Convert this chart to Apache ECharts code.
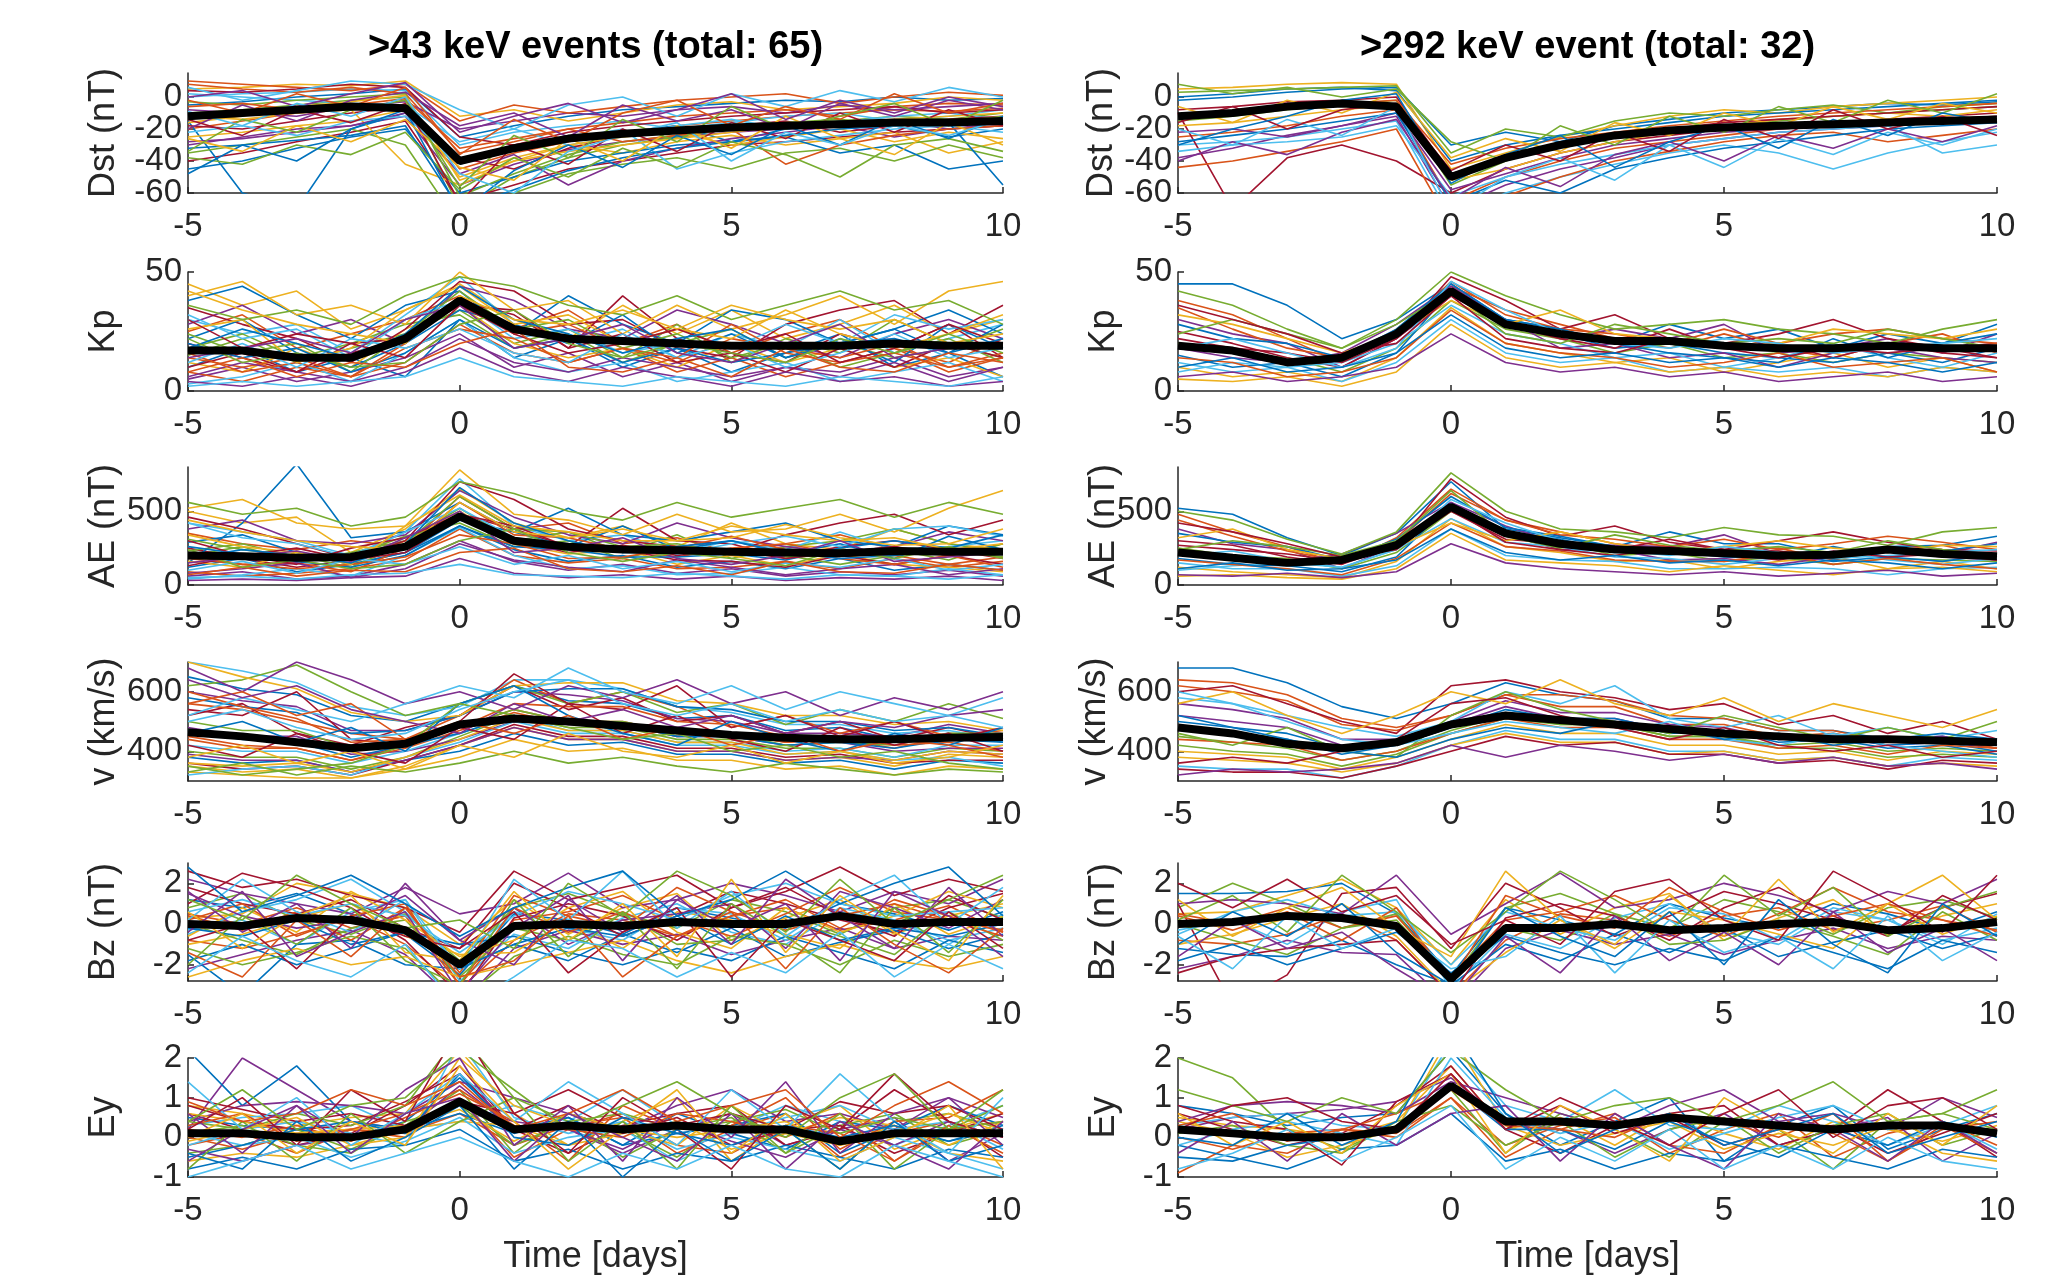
<!DOCTYPE html>
<html>
<head>
<meta charset="utf-8">
<script src="https://cdn.jsdelivr.net/npm/echarts@6/dist/echarts.min.js"></script>
<style>
  html, body { margin: 0; padding: 0; background: #fff; }
  #main { width: 2053px; height: 1276px; }
</style>
</head>
<body>
<div id="main"></div>
<script>
// time axis (days from event)
var days = [-5, -4, -3, -2, -1, 0, 1, 2, 3, 4, 5, 6, 7, 8, 9, 10];
var xTicks = [-5, 0, 5, 10];
var titles = ['>43 keV events (total: 65)', '>292 keV event (total: 32)'];
var matlabColors = ['#0072BD', '#D95319', '#EDB120', '#7E2F8E', '#77AC30', '#4DBEEE', '#A2142F'];

// tick labels per panel
var dstTicks = [-60, -40, -20, 0];
var kpTicks = [0, 50];
var aeTicks = [0, 500];
var vTicks = [400, 600];
var bzTicks = [-2, 0, 2];
var eyTicks = [-1, 0, 1, 2];

// superposed-epoch means (thick black)
var dstMeanA = [-12, -10, -8, -6, -7, -40, -32, -26, -23, -21, -19, -18, -17, -16, -16, -15];
var dstMeanB = [-12, -10, -6, -4, -6, -50, -38, -30, -24, -21, -19, -18, -17, -16, -15, -14];
var kpMeanA = [17, 17, 14, 14, 22, 38, 26, 22, 21, 20, 19, 19, 19, 20, 19, 19];
var kpMeanB = [19, 17, 12, 14, 24, 42, 28, 24, 21, 21, 19, 18, 18, 19, 18, 18];
var aeMeanA = [200, 195, 185, 190, 260, 465, 300, 260, 240, 235, 225, 220, 215, 230, 225, 225];
var aeMeanB = [220, 185, 150, 170, 270, 530, 350, 280, 240, 230, 215, 200, 205, 240, 210, 195];
var vMeanA = [464, 450, 430, 410, 425, 490, 510, 500, 485, 470, 455, 445, 440, 440, 445, 448];
var vMeanB = [480, 460, 425, 410, 430, 490, 520, 505, 490, 475, 460, 450, 440, 440, 435, 430];
var bzMeanA = [0, -0.1, 0.3, 0.2, -0.3, -2.0, -0.1, 0, -0.1, 0.1, 0, 0, 0.4, 0, 0.1, 0.1];
var bzMeanB = [0, 0.1, 0.4, 0.3, -0.1, -2.7, -0.2, -0.2, 0, -0.3, -0.2, 0, 0.1, -0.3, -0.2, 0.1];
var eyMeanA = [0.1, 0.1, 0, 0, 0.2, 0.9, 0.2, 0.3, 0.2, 0.3, 0.2, 0.2, -0.1, 0.1, 0.1, 0.1];
var eyMeanB = [0.2, 0.1, 0, 0, 0.2, 1.3, 0.4, 0.4, 0.3, 0.5, 0.4, 0.3, 0.2, 0.3, 0.3, 0.1];

// individual events, >43 keV (A) and >292 keV (B)
var dstA = [
  [-5, -3, 0, 2, 5, -25, -18, -12, -8, -6, -4, -2, -3, 0, -2, -1],
  [-20, -15, -10, -8, -2, -45, -35, -28, -22, -18, -15, -12, -10, -8, -9, -7],
  [5, 6, 8, 7, 10, -12, -8, -15, -10, -5, -3, -8, -6, -4, 0, -2],
  [-30, -25, -20, -18, -12, -55, -42, -33, -28, -25, -22, -20, -18, -25, -20, -18],
  [-10, -8, -5, -2, 0, -70, -50, -38, -30, -25, -20, -18, -15, -12, -14, -10],
  [0, 2, 3, 5, 4, -30, -22, -18, -15, -20, -16, -12, -10, -15, -12, -8],
  [-40, -35, -28, -22, -15, -65, -55, -45, -40, -35, -30, -28, -25, -22, -20, -18],
  [-15, -60, -70, -20, -10, -40, -30, -25, -22, -18, -28, -20, -15, -18, -25, -20],
  [8, 5, 3, 6, 2, -35, -28, -20, -16, -12, -10, -8, -12, -6, -4, -5],
  [-25, -22, -18, -15, -8, -50, -38, -30, -35, -28, -24, -30, -26, -22, -35, -28],
  [-8, -10, -12, -6, -3, -20, -15, -10, -12, -8, -6, -10, -5, -8, -6, -4],
  [-35, -30, -25, -20, -30, -80, -60, -48, -42, -38, -45, -35, -32, -40, -30, -38],
  [2, 0, -2, -4, -5, -28, -20, -30, -25, -18, -14, -20, -16, -12, -10, -14],
  [-18, -20, -15, -10, -6, -38, -45, -32, -24, -20, -18, -15, -22, -18, -14, -12],
  [-45, -40, -32, -25, -20, -60, -50, -40, -35, -30, -28, -25, -35, -30, -45, -40],
  [10, 8, 6, 4, 8, -15, -5, -10, -6, -2, 0, 2, -4, 0, 3, 1],
  [-12, -14, -10, -8, -42, -55, -40, -30, -25, -22, -30, -25, -20, -28, -22, -26],
  [-28, -26, -22, -18, -10, -48, -36, -55, -40, -32, -26, -22, -18, -15, -20, -16],
  [-3, -5, -2, 0, 2, -62, -48, -36, -28, -24, -20, -16, -14, -18, -16, -12],
  [-22, -18, -24, -15, -12, -42, -32, -26, -20, -45, -35, -28, -24, -20, -18, -22],
  [4, 3, 5, 8, 6, -25, -30, -22, -18, -15, -12, -10, -8, -6, -10, -8],
  [-32, -30, -27, -24, -18, -70, -58, -46, -38, -32, -28, -24, -20, -18, -16, -55],
  [-6, -4, -8, -5, -1, -32, -26, -20, -28, -24, -20, -42, -30, -24, -20, -18],
  [-16, -12, -6, -3, 1, -52, -40, -34, -30, -26, -22, -18, -16, -14, -12, -10],
  [-20, -5, -15, -2, 3, -18, -10, -25, -5, -15, -8, -20, -4, -12, -2, -8],
  [-38, -42, -30, -36, -22, -58, -38, -50, -32, -44, -28, -36, -50, -30, -26, -34],
  [6, -2, 4, 10, 8, -8, -20, -5, 0, -12, 2, -6, 4, -3, 6, 0],
  [-14, -24, -8, -16, -4, -66, -30, -42, -20, -34, -16, -26, -10, -22, -8, -18],
  [-48, -30, -40, -20, -8, -72, -46, -30, -44, -24, -36, -18, -30, -14, -26, -12],
  [-2, -10, 2, -6, 6, -36, -14, -28, -10, -2, -18, -6, -14, 2, -10, -4],
  [-26, -34, -18, -28, -14, -44, -52, -26, -40, -18, -32, -12, -26, -36, -16, -30],
  [0, 4, -6, 2, 9, -22, -12, -4, -16, -8, 2, -14, -2, -10, 0, -6],
  [-34, -14, -22, -8, -2, -56, -24, -38, -14, -28, -6, -20, -12, -4, -18, -2],
  [-9, -18, -4, -12, 0, -48, -60, -34, -24, -16, -40, -22, -30, -18, -24, -14]
];
var dstB = [
  [-2, 0, 3, 5, 6, -30, -22, -28, -18, -14, -10, -8, -6, -4, -5, -3],
  [-25, -22, -18, -12, -8, -65, -50, -40, -32, -28, -24, -20, -18, -16, -14, -12],
  [5, 6, 8, 9, 8, -45, -35, -25, -18, -12, -8, -10, -6, -4, -2, 0],
  [-38, -32, -24, -18, -12, -70, -55, -45, -38, -30, -26, -22, -20, -18, -16, -14],
  [-15, -12, -8, -5, -2, -55, -40, -30, -24, -20, -18, -15, -12, -10, -8, -6],
  [-30, -28, -25, -20, -15, -75, -60, -50, -42, -35, -30, -35, -45, -35, -28, -22],
  [-10, -70, -38, -30, -40, -60, -45, -35, -28, -24, -20, -18, -16, -14, -12, -10],
  [0, 2, 5, 6, 4, -40, -30, -24, -20, -16, -12, -10, -8, -6, -4, -2],
  [-44, -40, -34, -28, -20, -80, -62, -50, -40, -34, -28, -24, -22, -28, -24, -20],
  [-18, -16, -12, -8, -5, -52, -45, -35, -28, -22, -18, -14, -12, -10, -12, -8],
  [-22, -20, -25, -18, -10, -58, -48, -38, -30, -26, -22, -20, -18, -16, -14, -12],
  [3, 4, 5, 6, 7, -35, -20, -25, -15, -10, -12, -8, -5, -10, -6, -4],
  [-34, -30, -28, -25, -18, -62, -50, -42, -36, -30, -26, -22, -20, -18, -35, -30],
  [-8, -6, -3, -2, 0, -48, -38, -30, -25, -20, -16, -14, -12, -10, -8, -6],
  [-28, -24, -20, -15, -10, -66, -52, -60, -45, -38, -32, -28, -24, -20, -18, -16],
  [-12, -10, -6, -4, -2, -42, -32, -26, -22, -18, -15, -12, -10, -8, -6, -4],
  [-6, -16, -2, -10, 3, -38, -26, -34, -16, -24, -10, -18, -6, -14, -4, -10],
  [-40, -28, -36, -22, -14, -64, -44, -56, -36, -28, -40, -24, -32, -20, -28, -18],
  [8, 2, 6, 0, 5, -28, -40, -18, -30, -12, -22, -6, -16, -2, -10, 2],
  [-20, -30, -14, -24, -6, -72, -50, -38, -52, -30, -44, -26, -36, -22, -30, -20],
  [-16, -6, -20, -8, -4, -46, -30, -40, -22, -34, -14, -26, -8, -20, -12, -24],
  [-30, -20, -12, -2, 2, -54, -36, -24, -44, -28, -18, -32, -14, -24, -10, -16]
];
var kpA = [
  [10, 18, 8, 14, 6, 30, 14, 22, 10, 18, 8, 16, 24, 10, 16, 6],
  [25, 32, 18, 24, 30, 40, 26, 34, 20, 28, 16, 24, 30, 18, 12, 22],
  [45, 36, 42, 26, 34, 45, 30, 22, 36, 24, 34, 22, 28, 36, 24, 30],
  [5, 10, 4, 8, 14, 24, 10, 16, 6, 12, 4, 10, 8, 14, 6, 10],
  [15, 22, 12, 18, 24, 34, 20, 26, 14, 28, 12, 22, 16, 30, 20, 14],
  [30, 24, 28, 16, 32, 48, 28, 20, 26, 14, 24, 18, 30, 16, 22, 28],
  [20, 14, 8, 16, 22, 38, 32, 18, 40, 22, 16, 12, 24, 18, 28, 14],
  [38, 44, 32, 22, 36, 42, 24, 40, 28, 20, 34, 30, 20, 26, 34, 24],
  [8, 4, 10, 6, 12, 28, 16, 12, 18, 8, 14, 6, 12, 18, 8, 14],
  [12, 8, 18, 10, 26, 36, 20, 14, 18, 10, 20, 12, 18, 10, 14, 6],
  [28, 36, 24, 30, 20, 44, 38, 26, 22, 34, 28, 20, 14, 24, 30, 22],
  [18, 24, 14, 20, 28, 32, 18, 24, 12, 20, 26, 14, 20, 14, 18, 26],
  [3, 6, 12, 4, 16, 30, 14, 8, 12, 4, 8, 12, 4, 8, 12, 4],
  [35, 28, 22, 12, 26, 46, 42, 28, 30, 18, 14, 28, 34, 38, 24, 36],
  [22, 30, 16, 10, 20, 34, 28, 20, 32, 16, 24, 14, 22, 12, 28, 18],
  [14, 10, 14, 6, 20, 40, 24, 28, 18, 12, 22, 18, 14, 20, 10, 16],
  [40, 46, 32, 36, 28, 50, 34, 38, 24, 36, 26, 32, 40, 28, 42, 46],
  [6, 12, 8, 4, 10, 22, 12, 8, 14, 10, 6, 10, 6, 12, 4, 10],
  [24, 16, 20, 8, 24, 42, 26, 30, 18, 24, 14, 20, 10, 16, 22, 12],
  [32, 22, 26, 14, 30, 38, 22, 26, 16, 20, 18, 28, 20, 32, 26, 30],
  [10, 16, 8, 20, 22, 36, 34, 18, 24, 12, 16, 8, 18, 10, 20, 14],
  [20, 14, 18, 8, 16, 30, 18, 22, 12, 18, 12, 16, 20, 26, 16, 28],
  [16, 8, 12, 6, 18, 26, 22, 12, 18, 14, 28, 16, 12, 16, 10, 14],
  [26, 30, 12, 18, 34, 44, 28, 32, 20, 26, 22, 34, 24, 18, 24, 32],
  [4, 2, 6, 2, 8, 18, 8, 4, 10, 6, 2, 8, 4, 6, 2, 4],
  [36, 30, 34, 28, 40, 48, 44, 36, 32, 40, 30, 36, 42, 34, 38, 28],
  [12, 20, 10, 22, 18, 26, 16, 12, 24, 14, 20, 10, 16, 24, 14, 18],
  [30, 18, 24, 20, 14, 36, 24, 16, 20, 26, 18, 24, 12, 18, 28, 20],
  [18, 26, 20, 14, 24, 44, 30, 24, 16, 22, 26, 14, 20, 22, 16, 22],
  [8, 14, 6, 12, 10, 20, 26, 10, 8, 14, 6, 18, 10, 8, 16, 12],
  [42, 34, 28, 24, 20, 40, 30, 28, 34, 26, 36, 30, 26, 30, 20, 24],
  [14, 18, 22, 16, 30, 36, 18, 22, 28, 16, 12, 20, 28, 14, 18, 20],
  [22, 12, 16, 10, 12, 28, 34, 20, 14, 20, 16, 12, 22, 16, 24, 16],
  [2, 4, 2, 4, 6, 14, 6, 4, 2, 6, 4, 2, 6, 4, 2, 6]
];
var kpB = [
  [45, 45, 36, 22, 30, 45, 30, 26, 20, 28, 22, 26, 18, 24, 20, 28],
  [38, 32, 22, 12, 26, 44, 34, 28, 22, 18, 24, 18, 14, 20, 24, 16],
  [10, 6, 8, 4, 14, 35, 20, 16, 12, 14, 8, 12, 16, 10, 14, 8],
  [30, 24, 20, 10, 22, 40, 30, 22, 26, 22, 28, 16, 18, 22, 16, 24],
  [20, 16, 14, 8, 18, 38, 26, 22, 16, 20, 14, 16, 12, 16, 14, 12],
  [12, 8, 10, 4, 12, 30, 16, 12, 14, 8, 10, 8, 10, 6, 10, 8],
  [25, 20, 14, 10, 22, 48, 38, 26, 32, 22, 20, 24, 30, 22, 18, 20],
  [15, 10, 12, 6, 16, 42, 28, 24, 18, 20, 16, 14, 12, 16, 12, 18],
  [35, 26, 18, 14, 24, 46, 32, 26, 24, 20, 26, 20, 24, 26, 22, 20],
  [5, 4, 6, 2, 8, 28, 14, 10, 12, 8, 10, 6, 8, 6, 10, 8],
  [18, 14, 12, 16, 28, 44, 30, 18, 20, 14, 16, 10, 16, 18, 14, 12],
  [42, 36, 26, 18, 30, 50, 40, 32, 26, 28, 30, 26, 24, 20, 26, 30],
  [8, 12, 10, 12, 20, 36, 24, 20, 14, 16, 10, 14, 20, 14, 10, 16],
  [22, 18, 16, 12, 22, 40, 28, 22, 18, 26, 18, 20, 14, 20, 16, 14],
  [28, 22, 20, 14, 26, 45, 30, 26, 20, 16, 14, 12, 22, 14, 20, 24],
  [14, 12, 6, 8, 14, 34, 20, 16, 14, 10, 12, 16, 10, 12, 14, 8],
  [32, 28, 22, 16, 24, 38, 28, 34, 24, 22, 18, 20, 26, 24, 22, 26],
  [6, 8, 4, 6, 10, 24, 12, 8, 10, 6, 8, 4, 6, 8, 4, 6],
  [24, 30, 24, 18, 28, 42, 24, 20, 28, 24, 20, 22, 20, 26, 22, 18],
  [18, 22, 16, 10, 18, 46, 34, 24, 20, 18, 22, 20, 16, 18, 20, 22],
  [36, 30, 24, 16, 20, 40, 22, 18, 16, 22, 18, 14, 18, 16, 18, 14],
  [10, 14, 8, 10, 16, 32, 18, 14, 16, 12, 14, 10, 14, 12, 8, 12]
];
var aeA = [
  [120, 180, 90, 140, 220, 400, 240, 160, 200, 120, 160, 110, 180, 100, 140, 100],
  [350, 280, 240, 300, 260, 600, 380, 420, 280, 320, 220, 280, 340, 240, 200, 280],
  [500, 420, 460, 220, 380, 650, 420, 320, 400, 260, 420, 280, 240, 380, 280, 240],
  [60, 90, 40, 60, 140, 300, 160, 100, 140, 80, 110, 60, 90, 70, 100, 60],
  [200, 260, 160, 220, 300, 520, 300, 360, 220, 340, 180, 260, 300, 380, 280, 220],
  [420, 360, 300, 200, 360, 720, 400, 300, 340, 220, 300, 240, 360, 240, 260, 300],
  [250, 180, 120, 170, 260, 480, 380, 260, 520, 300, 280, 180, 260, 300, 240, 180],
  [150, 420, 820, 320, 360, 560, 360, 520, 340, 300, 360, 420, 300, 260, 400, 340],
  [90, 60, 80, 110, 170, 380, 200, 150, 180, 110, 120, 160, 110, 180, 120, 160],
  [160, 120, 220, 140, 300, 500, 280, 210, 240, 140, 200, 130, 210, 140, 120, 90],
  [380, 440, 300, 280, 340, 640, 460, 340, 280, 420, 320, 260, 220, 260, 360, 300],
  [230, 280, 190, 200, 330, 420, 260, 300, 180, 260, 240, 190, 200, 240, 170, 280],
  [40, 70, 110, 60, 200, 390, 200, 110, 130, 70, 80, 120, 70, 60, 110, 70],
  [460, 380, 280, 180, 300, 700, 580, 380, 300, 260, 220, 340, 420, 480, 340, 440],
  [290, 340, 220, 140, 220, 440, 360, 260, 400, 240, 300, 210, 280, 180, 330, 240],
  [180, 140, 150, 90, 250, 560, 340, 320, 240, 190, 250, 280, 210, 200, 140, 190],
  [520, 580, 420, 380, 400, 780, 480, 440, 340, 480, 360, 380, 480, 360, 520, 640],
  [80, 110, 150, 50, 110, 280, 170, 120, 90, 170, 120, 70, 110, 140, 70, 110],
  [310, 240, 200, 120, 280, 600, 380, 360, 260, 280, 210, 200, 140, 200, 240, 190],
  [420, 320, 280, 190, 360, 520, 320, 280, 220, 210, 280, 330, 260, 380, 400, 330],
  [130, 200, 140, 250, 320, 480, 400, 260, 240, 170, 160, 120, 200, 140, 200, 140],
  [260, 210, 160, 120, 200, 400, 260, 240, 190, 190, 210, 170, 250, 300, 250, 340],
  [200, 140, 110, 140, 190, 340, 280, 180, 190, 250, 330, 240, 180, 140, 200, 120],
  [340, 260, 220, 140, 400, 610, 400, 360, 300, 300, 320, 410, 320, 270, 280, 380],
  [30, 40, 30, 50, 60, 180, 80, 50, 70, 40, 60, 30, 50, 40, 60, 30],
  [560, 480, 520, 400, 460, 700, 620, 500, 440, 560, 460, 520, 580, 460, 560, 480],
  [100, 160, 80, 180, 140, 260, 140, 200, 110, 160, 90, 150, 120, 180, 100, 140],
  [300, 200, 250, 170, 220, 460, 300, 220, 270, 200, 240, 180, 220, 260, 200, 240],
  [180, 240, 200, 150, 280, 660, 420, 300, 220, 260, 300, 220, 180, 200, 240, 210],
  [70, 120, 60, 100, 90, 220, 250, 110, 90, 130, 70, 160, 90, 80, 140, 100],
  [440, 360, 300, 260, 240, 560, 360, 320, 380, 300, 400, 340, 300, 320, 240, 280],
  [150, 190, 230, 160, 320, 500, 220, 250, 320, 180, 140, 200, 300, 160, 190, 220],
  [240, 120, 170, 110, 140, 300, 380, 220, 160, 220, 180, 130, 240, 180, 260, 180],
  [50, 60, 40, 70, 80, 140, 70, 60, 50, 80, 60, 40, 70, 60, 40, 70]
];
var aeB = [
  [520, 480, 320, 200, 350, 700, 380, 320, 260, 360, 280, 280, 200, 260, 270, 330],
  [480, 360, 260, 140, 320, 650, 440, 360, 280, 240, 240, 250, 170, 230, 270, 190],
  [120, 90, 70, 50, 160, 450, 260, 220, 160, 170, 110, 160, 190, 110, 160, 110],
  [380, 280, 240, 110, 270, 560, 400, 280, 270, 260, 340, 210, 190, 250, 210, 290],
  [250, 200, 180, 110, 220, 500, 330, 290, 200, 220, 160, 190, 140, 180, 170, 160],
  [150, 110, 110, 60, 130, 380, 200, 170, 160, 110, 110, 120, 110, 70, 110, 120],
  [300, 270, 190, 140, 270, 720, 460, 330, 400, 290, 240, 300, 360, 290, 240, 230],
  [180, 140, 130, 90, 190, 550, 360, 310, 230, 240, 240, 210, 160, 190, 160, 210],
  [440, 330, 230, 160, 290, 620, 440, 340, 310, 260, 310, 240, 280, 330, 290, 240],
  [60, 70, 50, 40, 110, 350, 170, 150, 130, 90, 130, 100, 70, 110, 120, 90],
  [220, 170, 160, 210, 350, 560, 340, 240, 240, 170, 180, 140, 190, 230, 190, 170],
  [500, 440, 310, 210, 360, 760, 500, 380, 360, 320, 390, 340, 330, 270, 360, 390],
  [100, 130, 150, 120, 240, 450, 290, 260, 190, 180, 140, 180, 230, 170, 140, 180],
  [270, 240, 210, 160, 260, 500, 310, 280, 240, 310, 240, 230, 190, 260, 210, 170],
  [350, 290, 260, 170, 310, 600, 390, 330, 260, 230, 190, 180, 260, 190, 230, 280],
  [170, 140, 110, 70, 180, 420, 260, 230, 170, 160, 160, 210, 140, 180, 140, 110],
  [320, 380, 240, 180, 260, 420, 300, 360, 280, 220, 260, 300, 250, 220, 270, 260],
  [70, 60, 80, 50, 90, 280, 150, 110, 90, 70, 90, 60, 80, 100, 60, 80],
  [240, 300, 260, 200, 300, 640, 330, 250, 340, 270, 230, 260, 220, 300, 240, 200],
  [200, 230, 160, 120, 240, 580, 420, 300, 240, 200, 260, 220, 180, 200, 220, 240],
  [420, 360, 280, 190, 240, 520, 290, 240, 200, 260, 210, 170, 230, 190, 210, 170],
  [110, 150, 100, 110, 170, 380, 220, 170, 200, 150, 170, 130, 170, 150, 110, 150]
];
var vA = [
  [650, 610, 590, 520, 500, 560, 620, 570, 560, 510, 520, 470, 480, 440, 460, 430],
  [450, 420, 410, 370, 420, 480, 540, 500, 500, 460, 460, 430, 440, 410, 450, 440],
  [350, 330, 340, 310, 350, 420, 480, 440, 440, 400, 400, 370, 380, 350, 390, 380],
  [600, 570, 550, 470, 470, 520, 600, 590, 570, 510, 500, 460, 460, 450, 490, 460],
  [400, 380, 380, 340, 380, 450, 520, 480, 480, 440, 440, 410, 410, 380, 410, 400],
  [700, 670, 630, 550, 520, 550, 640, 640, 610, 550, 530, 490, 490, 460, 470, 440],
  [520, 560, 460, 420, 480, 520, 620, 540, 580, 500, 520, 460, 500, 440, 480, 440],
  [380, 360, 370, 330, 370, 400, 460, 420, 430, 390, 390, 360, 370, 340, 370, 360],
  [560, 540, 500, 460, 440, 520, 640, 560, 600, 550, 480, 520, 460, 500, 450, 470],
  [330, 320, 310, 310, 340, 380, 440, 400, 410, 370, 370, 340, 350, 320, 350, 340],
  [480, 450, 450, 390, 400, 440, 500, 490, 490, 450, 450, 420, 430, 400, 410, 410],
  [620, 640, 690, 600, 520, 560, 620, 560, 600, 530, 560, 490, 540, 500, 560, 510],
  [420, 400, 400, 360, 400, 460, 520, 470, 470, 430, 430, 400, 410, 380, 420, 420],
  [360, 340, 350, 320, 370, 420, 490, 450, 450, 410, 410, 380, 390, 360, 370, 370],
  [580, 550, 530, 460, 470, 520, 600, 610, 610, 550, 540, 500, 500, 470, 480, 450],
  [440, 410, 410, 370, 410, 470, 530, 490, 490, 450, 460, 430, 440, 430, 460, 450],
  [700, 650, 610, 530, 500, 520, 620, 630, 630, 570, 560, 520, 520, 490, 500, 470],
  [390, 370, 370, 330, 370, 420, 480, 440, 440, 400, 400, 370, 380, 370, 400, 390],
  [500, 470, 470, 410, 420, 480, 540, 500, 500, 460, 460, 420, 430, 420, 460, 460],
  [320, 340, 350, 320, 380, 430, 500, 460, 460, 420, 420, 390, 400, 370, 380, 350],
  [540, 520, 600, 440, 420, 500, 660, 560, 540, 620, 480, 520, 450, 500, 440, 480],
  [470, 440, 430, 380, 420, 460, 520, 490, 490, 450, 450, 420, 430, 410, 440, 430],
  [600, 550, 510, 430, 440, 480, 560, 550, 550, 500, 490, 450, 450, 420, 430, 400],
  [360, 350, 360, 330, 380, 440, 510, 470, 470, 430, 430, 390, 400, 370, 400, 390],
  [680, 600, 700, 640, 560, 600, 540, 620, 580, 640, 560, 600, 520, 580, 540, 600],
  [330, 360, 320, 350, 330, 360, 400, 360, 380, 350, 330, 360, 340, 320, 340, 330],
  [520, 580, 540, 500, 560, 620, 580, 680, 600, 560, 620, 540, 600, 560, 520, 580],
  [420, 380, 460, 400, 360, 480, 440, 560, 460, 520, 440, 400, 480, 420, 460, 400],
  [460, 500, 430, 480, 400, 560, 620, 520, 460, 420, 500, 440, 400, 460, 420, 480],
  [560, 600, 520, 560, 440, 500, 460, 520, 440, 480, 420, 460, 400, 440, 420, 380],
  [380, 420, 360, 400, 340, 420, 380, 460, 400, 380, 420, 360, 400, 360, 380, 420],
  [640, 580, 620, 540, 500, 460, 560, 500, 540, 480, 520, 460, 500, 480, 520, 540],
  [350, 320, 340, 360, 420, 560, 520, 480, 440, 460, 400, 420, 380, 400, 360, 340],
  [500, 540, 480, 440, 460, 540, 600, 640, 560, 520, 560, 500, 540, 500, 520, 480]
];
var vB = [
  [680, 680, 630, 550, 510, 560, 630, 590, 570, 510, 510, 470, 470, 440, 450, 420],
  [620, 600, 570, 490, 470, 520, 590, 550, 550, 490, 490, 450, 460, 430, 440, 410],
  [400, 390, 380, 340, 380, 440, 490, 460, 460, 420, 420, 390, 400, 370, 400, 390],
  [560, 540, 510, 440, 440, 500, 570, 530, 530, 490, 480, 440, 450, 420, 430, 410],
  [450, 430, 410, 370, 400, 470, 520, 490, 490, 450, 450, 420, 430, 400, 410, 400],
  [350, 340, 340, 310, 350, 420, 470, 440, 440, 400, 400, 370, 380, 350, 380, 370],
  [600, 620, 560, 500, 460, 620, 640, 600, 580, 540, 560, 490, 520, 460, 500, 440],
  [480, 460, 440, 390, 420, 480, 530, 500, 500, 460, 470, 430, 440, 410, 420, 390],
  [640, 630, 590, 510, 480, 520, 590, 590, 570, 520, 510, 470, 470, 430, 440, 410],
  [380, 370, 360, 330, 360, 420, 460, 430, 430, 390, 400, 370, 380, 350, 360, 350],
  [520, 500, 480, 420, 430, 490, 550, 510, 510, 470, 470, 440, 450, 440, 450, 420],
  [420, 400, 390, 350, 390, 460, 510, 490, 490, 450, 450, 410, 410, 380, 390, 380],
  [580, 560, 520, 480, 450, 500, 600, 560, 620, 510, 480, 520, 450, 480, 440, 470],
  [340, 330, 330, 310, 350, 400, 450, 420, 430, 390, 390, 360, 370, 340, 370, 360],
  [500, 480, 460, 410, 420, 480, 540, 510, 510, 470, 470, 440, 450, 420, 430, 400],
  [440, 430, 420, 370, 400, 460, 510, 480, 480, 440, 440, 410, 420, 390, 420, 410],
  [560, 600, 520, 460, 520, 600, 560, 640, 560, 520, 580, 500, 560, 520, 480, 540],
  [320, 340, 330, 340, 360, 420, 380, 420, 400, 370, 390, 360, 380, 350, 360, 340],
  [460, 420, 480, 400, 380, 520, 600, 540, 500, 460, 520, 480, 440, 480, 440, 500],
  [600, 560, 500, 440, 420, 460, 500, 480, 460, 500, 440, 420, 460, 420, 400, 380],
  [360, 380, 360, 400, 440, 560, 580, 520, 480, 440, 480, 420, 400, 420, 380, 400],
  [520, 480, 440, 400, 380, 440, 480, 460, 500, 480, 440, 460, 420, 440, 460, 440]
];
var bzA = [
  [1.2, 0.8, 1.5, 0.5, -0.5, -2.5, 0.5, 0.2, -0.5, 0.8, 0.3, -0.2, 1.0, 0.5, -0.3, 0.6],
  [-0.8, -1.2, -0.5, 0.3, -1.0, -3.2, -0.8, 0.5, 0.2, -0.6, 0.4, 0.8, -0.3, 0.2, 0.9, -0.4],
  [0.3, 0.5, 2.0, 1.5, 0.8, -1.0, 1.2, -0.5, 0.8, 1.5, -0.8, 0.3, 1.2, -0.5, 0.4, 1.0],
  [-2.2, -1.5, -0.8, -0.3, -1.5, -4.0, -1.2, -0.3, -1.0, -0.5, -1.5, -0.8, -0.2, -1.2, -0.6, -0.8],
  [0.8, 1.5, 0.2, -0.5, 0.5, -1.8, 0.8, 1.5, 0.5, -0.2, 1.2, 0.6, -0.5, 0.8, 1.2, 0.3],
  [-0.3, 0.2, -1.0, 0.6, 1.2, -2.8, -0.5, -1.2, 0.3, 1.0, -0.4, -1.0, 0.6, 0.2, -0.8, -0.2],
  [1.8, 1.0, 0.5, 1.2, -0.2, -1.2, 2.0, 0.8, -0.6, 0.4, 1.6, 1.0, 0.2, -0.4, 0.8, 1.5],
  [-1.5, -3.5, -1.0, -0.8, -2.0, -2.2, -1.0, -1.8, -0.5, -1.4, -0.2, -1.6, -0.9, -0.3, -1.2, -0.5],
  [0.5, 0, 0.8, -0.2, 0.4, -3.0, 0.2, 0.6, 1.4, 0.2, -0.6, 0.5, 1.8, 0.6, 0.2, -0.3],
  [-1.0, -0.5, 0.3, 1.0, -0.6, -1.5, -1.4, 0.2, -1.2, 0.6, 0.2, -0.5, -1.2, 1.0, -0.5, 0.4],
  [2.2, 1.5, 1.0, 0.5, 1.8, 0.5, 1.0, 2.5, 0.8, 1.2, 2.0, 1.4, 0.6, 1.6, 1.0, 2.2],
  [0, -0.8, -1.5, -0.2, 0.2, -2.6, -0.2, -0.8, 0.5, -1.0, -0.8, 0.2, -0.6, -1.5, 0.6, -0.8],
  [-0.5, 0.6, 1.2, 2.2, 0.6, -2.0, 0.6, -0.2, -0.8, 0.8, 0.5, -0.8, 0.8, 0.2, -1.0, 0.5],
  [1.0, 2.5, 1.8, 0.8, -0.8, -3.5, 0.3, 1.0, 0.4, -0.8, 0.8, 1.8, 0.4, -0.6, 1.4, 0.2],
  [-1.8, -1.0, -2.0, -1.2, -0.4, -1.0, -0.6, -1.4, -2.0, -1.2, -1.8, -0.6, -1.4, -2.2, -0.8, -1.4],
  [0.4, -0.3, 0.6, -0.8, 0.8, -2.4, 1.4, 0.4, -0.2, 1.8, 0.6, -0.3, 0.4, 1.0, 0.2, -0.6],
  [-0.6, 0.8, -0.4, 1.6, 0.2, -1.6, -0.8, 0.8, 1.6, -0.4, -1.2, 0.8, -0.4, 0.4, 1.6, 0.8],
  [1.5, 0.4, -0.2, 0.2, 1.4, -0.8, 0.8, -1.0, 0.2, 0.5, 1.0, -1.2, 1.6, 0.8, -0.2, 1.2],
  [-1.2, -2.0, -1.4, -0.6, -1.2, -3.8, -1.6, -0.6, -1.5, -2.0, -0.6, -1.0, -2.0, -0.8, -1.6, -1.0],
  [0.6, 1.2, 0.4, 1.0, 0.4, -1.4, 0.4, 1.6, 1.0, 0.2, 1.4, 2.0, 1.0, 0.4, 0.6, 0.8],
  [2.6, 1.8, 2.2, 1.4, 0.8, -0.4, 2.6, 1.2, 1.8, 2.4, 0.8, 1.6, 2.8, 1.4, 2.2, 1.6],
  [-0.2, -0.6, 0.2, -1.0, -0.4, -2.2, -1.0, -0.2, -0.6, 0.4, -1.0, 0.4, -0.8, -0.2, -0.6, 0],
  [0.2, 1.0, -0.6, 0.4, 1.0, -3.0, 0.8, -0.4, 0.6, -0.6, 0.4, 1.2, -0.2, 1.2, 0.4, -0.4],
  [-2.6, -1.8, -1.2, -2.0, -1.6, -2.6, -2.0, -1.4, -0.8, -1.8, -2.4, -1.6, -1.0, -1.8, -2.2, -1.6],
  [1.6, -0.4, 1.0, -1.2, 2.0, -0.8, -2.0, 1.2, -0.4, 1.4, -1.0, 2.2, 0.4, -1.2, 1.8, -0.6],
  [-2.0, 0.4, -1.0, 0.8, -1.8, -3.0, 1.2, -1.6, 0.6, -2.2, 1.0, -0.6, -2.4, 0.8, -1.4, 1.2],
  [0.2, 2.2, 0.6, -0.4, 1.2, -2.2, 2.2, 0.2, 2.6, -0.2, 1.6, -0.6, 1.2, 2.4, 0, 1.8],
  [-0.8, 0, -2.2, 0.4, -0.6, -1.2, 0.6, -2.4, -0.4, 0.8, -2.6, 0.2, -0.8, -1.8, 0.6, -1.2],
  [2.8, 0.6, 1.4, 2.4, 1.0, -0.6, 0.8, 1.8, 2.6, 0.4, 1.2, 2.6, 1.0, 2.0, 2.8, 0.4],
  [-1.4, -2.6, 0.2, -1.6, 0.8, -2.6, -1.8, 0.4, -2.6, -0.6, 0.6, -2.2, 0.8, -1.0, -2.4, -0.2],
  [0.6, -1.2, 0.4, 1.4, -1.4, -1.8, 1.6, -0.8, 1.0, -1.6, 2.2, -1.4, 1.4, -0.4, -1.8, 1.4],
  [-0.4, 1.6, -1.6, -0.4, 0.6, -3.4, -0.2, 1.4, -1.8, 1.2, -0.2, 1.0, -1.8, 1.6, 0.4, -1.6],
  [1.2, 0.2, 2.4, 1.0, -0.2, 0.2, -1.2, 2.0, 0.4, 2.6, 1.4, -0.4, 2.2, 0, 1.2, 2.4],
  [-2.4, -0.6, -1.8, -2.6, -1.0, -4.2, -2.6, -0.8, -1.2, -2.6, -1.4, -2.4, -0.4, -2.6, -1.0, -2.2]
];
var bzB = [
  [1.5, 1.5, 1.6, 2.0, 0.5, -2.5, 0.8, 0.2, -0.5, 1.0, 0.3, -0.2, 1.0, 0.5, -0.3, 0.6],
  [-0.8, -1.0, -0.5, 0.5, -0.8, -3.5, -0.8, 0.5, 0.2, -0.6, 0.4, 0.8, -0.3, 0.2, 0.9, -0.4],
  [0.5, 0.6, 1.4, 2.2, 0.8, -2.0, 1.2, -0.5, 0.8, 1.5, -0.8, 0.3, 1.2, -0.5, 0.4, 1.0],
  [-2.2, -1.6, -0.8, -1.4, -1.5, -4.0, -1.2, -0.3, -1.0, -0.5, -1.5, -0.8, -0.2, -1.2, -0.6, -0.8],
  [0.8, 2.0, 1.0, -0.2, 0.5, -2.8, 0.8, 1.5, 0.5, -0.2, 1.2, 0.6, -0.5, 0.8, 1.2, 0.3],
  [-0.3, 0.2, -1.0, 0.6, 1.2, -3.2, -0.5, -1.2, 0.3, 1.0, -0.4, -1.0, 0.6, 0.2, -0.8, -0.2],
  [1.0, -4.0, -2.5, 1.5, 1.8, -1.2, 2.0, 0.8, -0.6, 0.4, 1.6, 1.0, 0.2, -0.4, 0.8, 1.5],
  [-1.2, -1.5, -1.6, -0.8, -2.0, -3.0, -1.0, -1.8, -0.5, -1.4, -0.2, -1.6, -0.9, -0.3, -1.2, -0.5],
  [0.5, 0, 0.8, -0.2, 0.4, -2.6, 0.2, 0.6, 1.4, 0.2, -0.6, 0.5, 1.8, 0.6, 0.2, -0.3],
  [-1.0, -0.5, 0.3, 1.0, -0.6, -3.4, -1.4, 0.2, -1.2, 0.6, 0.2, -0.5, -1.2, 1.0, -0.5, 0.4],
  [1.0, 1.2, 1.0, 0.5, 2.4, -0.5, 1.0, 2.5, 0.8, 1.2, 2.0, 1.4, 0.6, 1.6, 1.0, 2.2],
  [0, -0.8, -1.5, -0.2, 0.2, -2.6, -0.2, -0.8, 0.5, -1.0, -0.8, 0.2, -0.6, -1.5, 0.6, -0.8],
  [-0.5, 0.6, 1.2, 0.4, 0.6, -2.0, 0.6, -0.2, -0.8, 0.8, 0.5, -0.8, 0.8, 0.2, -1.0, 0.5],
  [-2.4, -1.6, -1.2, -1.0, -0.8, -3.5, 0.3, 1.0, 0.4, -0.8, 0.8, 1.8, 0.4, -0.6, 1.4, 0.2],
  [-1.8, -1.0, -2.0, -1.2, -0.4, -2.4, -0.6, -1.4, -2.0, -1.2, -1.8, -0.6, -1.4, -2.2, -0.8, -1.4],
  [0.4, -0.3, 0.6, -0.8, 0.8, -2.8, 1.4, 0.4, -0.2, 1.8, 0.6, -0.3, 0.4, 1.0, 0.2, -0.6],
  [1.2, -0.6, 0.8, 1.8, -0.2, -1.6, 2.6, 0.2, -1.0, 1.4, -0.6, 2.2, -0.4, 1.0, 2.4, 0.2],
  [-1.6, 0.2, -1.2, -0.4, -2.2, -3.8, -0.6, -2.4, 0.4, -1.8, -0.4, -2.0, 0.6, -1.4, -0.2, -1.8],
  [0.2, 1.4, -0.4, 2.4, 0.6, -1.4, 0.6, 2.6, 1.2, -0.4, 2.4, 0.4, 1.8, -0.6, 0.8, 1.6],
  [-0.6, -2.2, 0.4, -1.2, -0.2, -2.2, -1.6, 0.4, -2.4, 0.2, -1.4, -0.6, -2.2, 0.4, -1.8, -0.4],
  [2.0, 0.8, 2.2, 0.6, 1.4, -1.0, 0.2, -1.0, 1.6, 2.2, 0.2, -0.8, 2.6, 1.2, -0.4, 2.4],
  [-1.0, 0.6, -0.6, 1.0, -1.4, -3.0, 0.8, -0.6, -1.6, 0.6, -2.0, 1.2, -1.0, -2.4, 1.0, -0.6]
];
var eyA = [
  [0.5, 0.3, 0.2, 0, 0.4, 1.5, 0.2, 0.5, -0.2, 0.6, 0.1, -0.3, 0.4, 0.2, -0.1, 0.3],
  [-0.2, 0.1, -0.4, 0.2, 0.1, 0.6, -0.2, 0.3, 0.5, -0.4, 0.2, 0.6, -0.5, 0.1, 0.4, -0.2],
  [0.8, 0.6, 0.3, 0.5, 0.6, 2.2, 0.6, -0.2, 0.4, 1.0, -0.6, 0.3, 0.8, -0.3, 0.2, 0.6],
  [0.2, 2.0, 1.2, 0.4, 0.2, 0.8, 0.4, 0.2, -0.4, 0.2, 0.6, -0.2, 0.2, 0.5, -0.6, 0.1],
  [-0.4, -0.2, 0.2, -0.3, 0.3, 1.2, -0.4, 0.6, 0.2, -0.5, 0.4, 0.2, -0.8, 0.4, 0.6, 0.2],
  [0.3, 0.5, 0.6, 0.8, 0.2, 0.4, 0.8, 0.4, 1.2, 0.3, 0.2, 0.8, 0.4, -0.2, 0.3, 0.8],
  [0.6, 0.2, -0.2, 0.1, 0.8, 1.8, 0.2, -0.4, 0.3, 0.6, 0.8, -0.2, 0.2, 1.2, 0.4, -0.5],
  [2.2, 0.8, 1.8, 0.4, 0.2, 0.6, 0.1, 0.5, -0.2, 0.1, 0.3, 0.6, -0.4, 0.2, 0.8, 0.3],
  [0, -0.3, 0.1, 0.2, 0, 1.0, -0.5, 0.2, 0.6, -0.2, -0.4, 0.3, 0.1, -0.6, 0.2, 0.4],
  [-0.6, -0.4, -0.5, -0.2, 0.2, 0.4, 0.3, -0.2, 0.1, 0.4, -0.3, 0.1, -0.2, 0.3, -0.4, -0.6],
  [0.4, 0.8, 0.9, 0.8, 0.6, 1.4, 1.0, 0.6, 0.2, 0.8, 1.2, 0.4, 0.6, 0.2, 1.0, 0.5],
  [0.1, 0.3, -0.2, -0.4, 0.4, 0.8, -0.2, 0.4, -0.5, 0.2, 0.5, -0.4, 0.3, 0.6, -0.2, 0.2],
  [-0.2, 0.2, 0.4, 0.1, -0.2, 2.4, 0.5, 0.1, 0.4, -0.3, 0.1, 0.5, 0.8, 0.2, 0.4, -0.3],
  [0.8, 0.4, 0.2, 0.3, 0.9, 1.6, 0.2, 0.8, 0.1, 0.5, -0.2, 0.2, 0.3, -0.4, 0.1, 0.6],
  [-0.8, -0.5, -0.8, -0.3, -0.2, 0.2, -0.6, -0.3, -0.8, -0.4, -0.6, -0.2, -0.5, -0.8, -0.3, -0.5],
  [0.2, 0, 0.3, -0.1, 0.5, 1.1, 0.4, -0.6, 0.8, 0.2, 0.3, 1.0, -0.3, 0.4, 0.5, 1.2],
  [0.6, 0.4, 0.1, 0.2, 0.3, 0.7, -0.1, 0.6, 0.2, -0.2, 0.8, 0.1, 0.5, 0.3, -0.2, 0.4],
  [-0.3, -0.6, -0.2, 0, 0.2, 1.3, 0.2, 0.2, -0.3, 0.4, -0.1, -0.5, 0.2, -0.2, 0.4, 0],
  [0.4, 0.2, 0.6, 0.3, 0.8, 2.6, 1.0, 0.4, 0.6, 0.2, 0.4, 0.7, 0.1, 0.5, 0.2, 0.4],
  [0.1, -0.2, 0, -0.5, -0.1, 0.5, -0.4, 0, 0.2, -0.6, 0, -0.3, -0.6, 0, -0.4, -0.8],
  [1.0, 0.7, 0.4, 0.6, 0.3, 0.9, 0.6, 1.2, 0.5, 0.3, 0.6, 0.2, 0.9, 0.6, 0.8, 0.2],
  [-0.5, -0.2, 0.2, 0.4, 0.1, 1.6, 0, -0.2, 0.5, 0.1, -0.2, 0.3, 0, 0.3, -0.1, 0.2],
  [0.3, 0.6, -0.1, 0.2, 0.6, 1.2, 0.3, 0.2, 0, 0.6, 0.4, 0, 0.6, -0.6, 0.3, -0.4],
  [-0.1, 0.2, 0.5, -0.2, 0, 2.0, 0.8, 0.3, 0.2, 0, 0.2, 0.4, -0.2, 0.1, 0.6, 0.1],
  [0.6, -0.4, 0.8, 0, 1.2, 2.0, -0.2, 0.8, -0.6, 1.0, 0, 1.4, -0.4, 0.6, 1.0, -0.2],
  [-0.8, 0.4, -0.6, 0.6, -0.4, 0.4, 1.0, -0.6, 0.4, -0.8, 0.8, -0.4, 0.6, -0.8, 0.2, 0.8],
  [1.4, 0.2, 1.0, -0.2, 0.6, 1.6, 0.4, 1.4, 0.6, -0.2, 1.2, 0.2, 1.6, 0.4, -0.4, 1.0],
  [0.2, 1.0, -0.2, 1.2, 0.4, 2.8, 0.6, -0.4, 1.0, 0.2, -0.8, 0.8, 0.2, 1.6, 0.4, 0],
  [-0.4, -0.8, 0.4, -0.6, 0, 0.8, -0.8, 0.4, -1.0, 0.2, -0.6, 0.2, -0.8, 0.4, -0.6, -0.2],
  [0.9, 0.4, 0.6, 1.2, 0.8, 1.4, 0.2, 0.6, 1.2, 0.4, 0.8, 1.2, 0, 0.8, 1.4, 0.6],
  [0, 0.6, -0.4, 0.4, -0.2, 1.8, 0.4, -0.8, 0.2, 1.2, -0.4, 0.6, -0.6, 0, 0.8, -0.8],
  [-0.6, 0.2, 0.8, -0.4, 0.6, 1.0, -0.6, 0.6, 0, -0.6, 0.6, -0.8, 0.4, -0.2, -0.8, 0.4],
  [0.4, 1.2, 0.2, 0.8, 1.0, 2.2, 1.2, 0.2, 0.8, 1.4, 0.6, 0, 1.0, 1.6, 0.2, 1.2],
  [-1.0, -0.6, -0.2, -0.8, -0.4, 0, -0.6, -1.0, -0.4, -0.8, -0.2, -0.8, -1.0, -0.2, -0.6, -1.0]
];
var eyB = [
  [0.8, 0.6, 0.3, 0.5, 0.6, 2.2, 0.6, -0.2, 0.4, 1.0, -0.6, 0.3, 0.8, -0.3, 0.2, 0.6],
  [-0.9, -0.2, -0.4, 0.2, 0.1, 1.0, -0.2, 0.3, 0.5, -0.4, 0.2, 0.6, -0.5, 0.1, 0.4, -0.2],
  [0.5, 0.3, 0.2, 0, 0.4, 1.8, 0.2, 0.5, -0.2, 0.6, 0.1, -0.3, 0.4, 0.2, -0.1, 0.3],
  [0.2, 0.5, 0.6, 0.7, 0.9, 1.5, 0.4, 0.2, -0.4, 0.2, 0.6, -0.2, 0.2, 0.5, -0.6, 0.1],
  [2.0, 1.5, 0.2, -0.3, 0.3, 1.2, -0.4, 0.6, 0.2, -0.5, 0.4, 0.2, -0.8, 0.4, 0.6, 0.2],
  [0.3, 0.5, 0.6, 0.3, 0.2, 2.4, 0.8, 0.4, 1.2, 0.3, 0.2, 0.8, 0.4, -0.2, 0.3, 0.8],
  [0.6, 0.2, -0.2, 0.1, 0.8, 1.8, 0.2, -0.4, 0.3, 0.6, 0.8, -0.2, 0.2, 1.2, 0.4, -0.5],
  [-0.2, -0.5, -0.8, -0.3, -0.2, 0.6, -0.6, -0.3, -0.8, -0.4, -0.6, -0.2, -0.5, -0.8, -0.3, -0.5],
  [0, -0.3, 0.1, 0.2, 0, 1.0, -0.5, 0.2, 0.6, -0.2, -0.4, 0.3, 0.1, -0.6, 0.2, 0.4],
  [0.4, 0.1, -0.5, -0.2, 0.2, 2.6, 0.3, -0.2, 0.1, 0.4, -0.3, 0.1, -0.2, 0.3, -0.4, -0.6],
  [0.4, 0.8, 0.9, 0.8, 0.6, 1.4, 1.0, 0.6, 0.2, 0.8, 1.2, 0.4, 0.6, 0.2, 1.0, 0.5],
  [0.1, 0.3, -0.2, -0.4, 0.4, 0.8, -0.2, 0.4, -0.5, 0.2, 0.5, -0.4, 0.3, 0.6, -0.2, 0.2],
  [-0.2, 0.2, 0.4, 0.1, -0.2, 2.0, 0.5, 0.1, 0.4, -0.3, 0.1, 0.5, 0.8, 0.2, 0.4, -0.3],
  [0.8, 0.4, 0.2, -0.7, 0.9, 1.6, 0.2, 0.8, 0.1, 0.5, -0.2, 0.2, 0.3, -0.4, 0.1, 0.6],
  [-0.5, -0.6, -0.2, 0, 0.2, 1.3, 0.2, 0.2, -0.3, 0.4, -0.1, -0.5, 0.2, -0.2, 0.4, 0],
  [0.3, 0.6, -0.1, 0.2, 0.6, 1.2, 0.3, 0.2, 0, 0.6, 0.4, 0, 0.6, -0.6, 0.3, -0.4],
  [0.6, -0.2, 0.4, -0.4, 0.8, 1.6, -0.4, 0.8, 0.2, -0.6, 1.0, 0.2, -0.4, 0.6, -0.2, 0.8],
  [-0.4, 0.4, -0.6, 0.6, -0.2, 0.6, 0.8, -0.6, 0.6, -0.2, -0.8, 0.6, 0.2, -0.6, 0.4, -0.4],
  [1.2, 0.8, 0.4, 1.0, 0.6, 2.2, 1.2, 0.4, 0.8, 1.0, 0.4, 0.8, 1.4, 0.4, 0.6, 1.2],
  [-0.8, -0.4, 0.2, -0.6, 0, 0.8, -0.8, 0, -0.6, 0.2, -0.8, -0.2, -0.8, 0, -0.6, -0.8],
  [0.2, 0.8, 1.0, 0.4, 0.2, 1.6, 0.2, 1.0, 0.4, -0.2, 0.6, 1.2, 0, 0.8, 1.0, 0.2],
  [0, -0.2, 0.6, -0.2, 0.4, 2.8, 0.6, -0.4, 0.2, 0.6, -0.2, 0.2, 0.6, -0.4, 0, 0.4]
];

var panels = [
  { name: 'Dst (nT)', min: -60, max: 15, ticks: dstTicks, ev: [dstA, dstB], mean: [dstMeanA, dstMeanB] },
  { name: 'Kp', min: 0, max: 50, ticks: kpTicks, ev: [kpA, kpB], mean: [kpMeanA, kpMeanB] },
  { name: 'AE (nT)', min: 0, max: 800, ticks: aeTicks, ev: [aeA, aeB], mean: [aeMeanA, aeMeanB] },
  { name: 'v (km/s)', min: 300, max: 700, ticks: vTicks, ev: [vA, vB], mean: [vMeanA, vMeanB] },
  { name: 'Bz (nT)', min: -2.8, max: 3, ticks: bzTicks, ev: [bzA, bzB], mean: [bzMeanA, bzMeanB] },
  { name: 'Ey', min: -1, max: 2, ticks: eyTicks, ev: [eyA, eyB], mean: [eyMeanA, eyMeanB] }
];

// layout (px)
var rowTop = [73, 272, 467, 662, 863, 1058];
var rowH = [120, 119, 118, 119, 118, 122];
var colLeft = [188, 1178];
var colW = [815, 819];
var nameGaps = [66, 56];

var axisColor = '#262626';
var font = 'Liberation Sans';
var labelStyle = { fontFamily: font, fontSize: 33, color: axisColor, margin: 6,
  showMinLabel: true, showMaxLabel: true, hideOverlap: false };

var grids = [], xAxes = [], yAxes = [], series = [];

panels.forEach(function (p, r) {
  // every other tick label goes on a twin axis, so the tightly spaced
  // Dst labels are not dropped by the overlap check
  var evenTicks = p.ticks.filter(function (v, i) { return i % 2 === 0; });
  var oddTicks = p.ticks.filter(function (v, i) { return i % 2 === 1; });
  for (var c = 0; c < 2; c++) {
    var gi = grids.length;
    grids.push({ left: colLeft[c], top: rowTop[r], width: colW[c], height: rowH[r] });
    xAxes.push({
      gridIndex: gi, type: 'value', min: -5, max: 10, interval: 5,
      name: r === panels.length - 1 ? 'Time [days]' : '',
      nameLocation: 'middle', nameGap: 62,
      nameTextStyle: { fontFamily: font, fontSize: 36, color: axisColor },
      axisLine: { show: true, onZero: false, lineStyle: { color: axisColor, width: 1.5 } },
      axisTick: { show: true, inside: true, length: 6, lineStyle: { color: axisColor, width: 1.5 }, customValues: xTicks },
      axisLabel: Object.assign({}, labelStyle, { margin: 17, customValues: xTicks }),
      splitLine: { show: false }
    });
    var yi = yAxes.length;
    yAxes.push({
      gridIndex: gi, type: 'value', position: 'left', min: p.min, max: p.max,
      name: p.name, nameLocation: 'middle', nameRotate: 90, nameGap: nameGaps[c],
      nameTextStyle: { fontFamily: font, fontSize: 36, color: axisColor },
      axisLine: { show: true, onZero: false, lineStyle: { color: axisColor, width: 1.5 } },
      axisTick: { show: true, inside: true, length: 6, lineStyle: { color: axisColor, width: 1.5 }, customValues: p.ticks },
      axisLabel: Object.assign({}, labelStyle, { customValues: evenTicks }),
      splitLine: { show: false }
    });
    if (oddTicks.length) {
      yAxes.push({
        gridIndex: gi, type: 'value', position: 'left', min: p.min, max: p.max,
        axisLine: { show: false }, axisTick: { show: false }, splitLine: { show: false },
        axisLabel: Object.assign({}, labelStyle, { customValues: oddTicks })
      });
    }
    p.ev[c].forEach(function (line, i) {
      series.push({
        type: 'line', xAxisIndex: gi, yAxisIndex: yi,
        data: days.map(function (d, k) { return [d, line[k]]; }),
        symbol: 'none', silent: true, clip: true,
        lineStyle: { width: 1.6, color: matlabColors[i % matlabColors.length] },
        z: 2
      });
    });
    series.push({
      type: 'line', xAxisIndex: gi, yAxisIndex: yi,
      data: days.map(function (d, k) { return [d, p.mean[c][k]]; }),
      symbol: 'none', silent: true, clip: true,
      lineStyle: { width: 8, color: '#000' },
      z: 5
    });
  }
});

var myChart = echarts.init(document.getElementById('main'));
myChart.setOption({
  animation: false,
  backgroundColor: '#fff',
  grid: grids,
  xAxis: xAxes,
  yAxis: yAxes,
  series: series,
  graphic: titles.map(function (t, c) {
    return {
      type: 'text', x: colLeft[c] + colW[c] / 2, y: 48,
      style: { text: t, fontFamily: font, fontSize: 38, fontWeight: 'bold', fill: '#000', align: 'center', verticalAlign: 'middle' }
    };
  })
});
</script>
</body>
</html>
